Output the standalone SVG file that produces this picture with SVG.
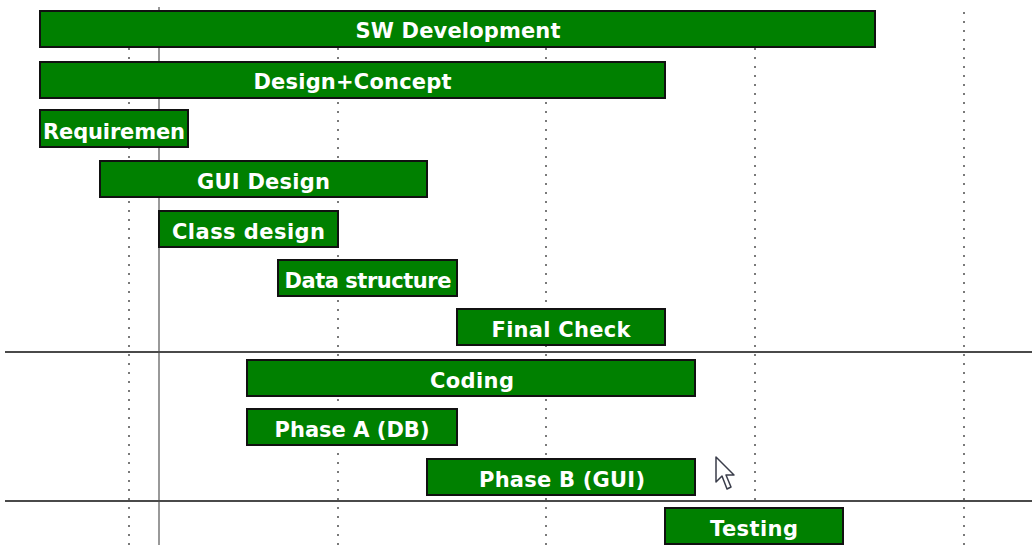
<svg xmlns="http://www.w3.org/2000/svg" width="1032" height="545" viewBox="0 0 1032 545">
  <style>
    .bar { fill: #008000; stroke: #111; stroke-width: 2; }
    .lbl { font-family: "DejaVu Sans", "Liberation Sans", sans-serif; font-weight: bold; font-size: 21px; fill: #fff; }
    .c { text-anchor: middle; }
    .grid { stroke: #7a7a7a; stroke-width: 2; stroke-dasharray: 2 7; fill: none; }
    .sep { stroke: #4a4a4a; stroke-width: 2; fill: none; }
    .today { stroke: #999; stroke-width: 2; fill: none; }
  </style>
  <rect width="1032" height="545" fill="#fff"/>

  <!-- timeline grid -->
  <g id="grid">
    <line class="grid" x1="129" y1="12" x2="129" y2="545"/>
    <line class="grid" x1="338" y1="12" x2="338" y2="545"/>
    <line class="grid" x1="546" y1="12" x2="546" y2="545"/>
    <line class="grid" x1="755" y1="12" x2="755" y2="545"/>
    <line class="grid" x1="964" y1="12" x2="964" y2="545"/>
    <line class="today" x1="159" y1="7" x2="159" y2="545"/>
    <line class="sep" x1="5" y1="352" x2="1032" y2="352"/>
    <line class="sep" x1="5" y1="501" x2="1032" y2="501"/>
  </g>

  <!-- task bars -->
  <g id="sw-development">
    <rect class="bar" x="40" y="11" width="835" height="36"/>
    <text class="lbl c" x="458" y="37.5" textLength="205" lengthAdjust="spacing">SW Development</text>
  </g>
  <g id="design-concept">
    <rect class="bar" x="40" y="62" width="625" height="36"/>
    <text class="lbl c" x="352.5" y="89" textLength="198" lengthAdjust="spacing">Design+Concept</text>
  </g>
  <g id="requirements">
    <rect class="bar" x="40" y="110" width="148" height="37"/>
    <text class="lbl" x="43" y="139" textLength="142" lengthAdjust="spacing">Requiremen</text>
  </g>
  <g id="gui-design">
    <rect class="bar" x="100" y="161" width="327" height="36"/>
    <text class="lbl c" x="263.5" y="188.5" textLength="133" lengthAdjust="spacing">GUI Design</text>
  </g>
  <g id="class-design">
    <rect class="bar" x="159" y="211" width="179" height="36"/>
    <text class="lbl c" x="248.5" y="238.5" textLength="153" lengthAdjust="spacing">Class design</text>
  </g>
  <g id="data-structure">
    <rect class="bar" x="278" y="260" width="179" height="36"/>
    <text class="lbl c" x="368" y="287.5" textLength="167" lengthAdjust="spacing">Data structure</text>
  </g>
  <g id="final-check">
    <rect class="bar" x="457" y="309" width="208" height="36"/>
    <text class="lbl c" x="561" y="336.5" textLength="139" lengthAdjust="spacing">Final Check</text>
  </g>
  <g id="coding">
    <rect class="bar" x="247" y="360" width="448" height="36"/>
    <text class="lbl c" x="472" y="387.5" textLength="84" lengthAdjust="spacing">Coding</text>
  </g>
  <g id="phase-a">
    <rect class="bar" x="247" y="409" width="210" height="36"/>
    <text class="lbl c" x="352" y="436.5" textLength="155" lengthAdjust="spacing">Phase A (DB)</text>
  </g>
  <g id="phase-b">
    <rect class="bar" x="427" y="459" width="268" height="36"/>
    <text class="lbl c" x="562" y="486.5" textLength="166" lengthAdjust="spacing">Phase B (GUI)</text>
  </g>
  <g id="testing">
    <rect class="bar" x="665" y="508" width="178" height="36"/>
    <text class="lbl c" x="754" y="535.5" textLength="88" lengthAdjust="spacing">Testing</text>
  </g>

  <!-- mouse pointer -->
  <g id="pointer">
    <polygon points="716,457 716,482 722,476 727,489 731,487 726,475 734,475" fill="#fff" stroke="#3a3d4a" stroke-width="1.5" stroke-linejoin="round"/>
  </g>
</svg>
